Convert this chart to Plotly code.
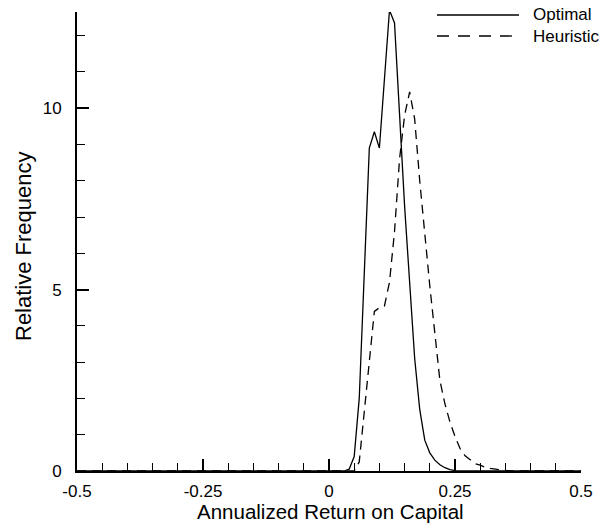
import plotly.graph_objects as go

# Optimal (solid)
opt_x = [-0.5, 0.0, 0.03, 0.04, 0.05, 0.06, 0.07, 0.08, 0.09, 0.10, 0.12, 0.13, 0.15, 0.16, 0.17,
         0.18, 0.19, 0.20, 0.21, 0.22, 0.23, 0.24, 0.25, 0.5]
opt_y = [0.0, 0.0, 0.0, 0.05, 0.4, 2.0, 5.5, 8.9, 9.35, 8.9, 12.7, 12.35, 7.3, 5.1, 3.1,
         1.7, 0.85, 0.5, 0.3, 0.17, 0.09, 0.04, 0.01, 0.0]

# Heuristic (dashed)
heu_x = [-0.5, 0.0, 0.05, 0.06, 0.07, 0.08, 0.09, 0.10, 0.11, 0.12, 0.13, 0.14, 0.15, 0.16, 0.17,
         0.18, 0.19, 0.20, 0.21, 0.22, 0.23, 0.24, 0.25, 0.26, 0.27, 0.28, 0.29, 0.30,
         0.31, 0.32, 0.33, 0.34, 0.35, 0.36, 0.5]
heu_y = [0.0, 0.0, 0.0, 0.25, 1.7, 3.0, 4.4, 4.5, 4.55, 5.2, 6.6, 8.6, 9.8, 10.45, 9.7,
         8.0, 6.5, 5.1, 3.8, 2.5, 1.85, 1.35, 0.95, 0.62, 0.42, 0.3, 0.2, 0.16,
         0.1, 0.07, 0.05, 0.03, 0.02, 0.0, 0.0]

x_ticks = [-0.5, -0.25, 0, 0.25, 0.5]
x_ticktext = ["-0.5", "-0.25", "0", "0.25", "0.5"]
y_ticks = [0, 5, 10]
y_ticktext = ["0", "5", "10"]

series_names = ["Optimal", "Heuristic"]
x_title = "Annualized Return on Capital"
y_title = "Relative Frequency"

FONT = "Liberation Sans, Arial, sans-serif"

fig = go.Figure()
fig.add_trace(go.Scatter(x=opt_x, y=opt_y, mode="lines", name=series_names[0],
                         line=dict(color="black", width=1.3), showlegend=False, hoverinfo="skip"))
fig.add_trace(go.Scatter(x=heu_x, y=heu_y, mode="lines", name=series_names[1],
                         line=dict(color="black", width=1.3, dash="9px,6px"), showlegend=False,
                         hoverinfo="skip"))

L, R, T, B = 77, 23, 12, 58
W, H = 604, 529
PW, PH = W - L - R, H - T - B

def px_x(xp):
    return (xp - L) / PW

def px_y(yp):
    return 1 - (yp - T) / PH

# manual legend (paper coordinates)
legend_items = [(series_names[0], "solid", 15), (series_names[1], "12px,9px", 36)]
for name, dash, ypx in legend_items:
    fig.add_shape(type="line", xref="paper", yref="paper",
                  x0=px_x(437), x1=px_x(519), y0=px_y(ypx), y1=px_y(ypx),
                  line=dict(color="black", width=1.3, dash=dash))
    fig.add_annotation(xref="paper", yref="paper", x=px_x(531), y=px_y(ypx),
                       text=name, showarrow=False, xanchor="left", yanchor="middle",
                       font=dict(family=FONT, size=17, color="black"))

# axis titles
fig.add_annotation(xref="paper", yref="paper", x=px_x(330), y=px_y(511),
                   text=x_title, showarrow=False, xanchor="center", yanchor="middle",
                   font=dict(family=FONT, size=20.5, color="black"))
fig.add_annotation(xref="paper", yref="paper", x=px_x(24), y=px_y(246),
                   text=y_title, showarrow=False, xanchor="center", yanchor="middle",
                   textangle=-90, font=dict(family=FONT, size=22, color="black"))

fig.update_layout(
    width=W, height=H,
    margin=dict(l=L, r=R, t=T, b=B, autoexpand=False),
    plot_bgcolor="white", paper_bgcolor="white",
    font=dict(family=FONT, size=17, color="black"),
    hovermode=False,
    xaxis=dict(range=[-0.5, 0.5], tickvals=x_ticks, ticktext=x_ticktext, automargin=False,
               showgrid=False, zeroline=False, showline=True, linecolor="black", linewidth=2,
               ticks="inside", ticklen=12, tickwidth=2, tickcolor="black",
               minor=dict(dtick=0.05, tick0=0, ticks="inside", ticklen=8, tickwidth=1, tickcolor="black", showgrid=False),
               ticklabelstandoff=4),
    yaxis=dict(range=[0, 12.65], tickvals=y_ticks, ticktext=y_ticktext, automargin=False,
               showgrid=False, zeroline=False, showline=True, linecolor="black", linewidth=2,
               ticks="inside", ticklen=12, tickwidth=2, tickcolor="black",
               minor=dict(dtick=1, tick0=0, ticks="inside", ticklen=8, tickwidth=1, tickcolor="black", showgrid=False),
               ticklabelstandoff=10),
)

fig.write_html("out.html", config={"displayModeBar": False, "staticPlot": True},
               post_script="document.body.style.margin='0';document.body.style.overflow='hidden';")
